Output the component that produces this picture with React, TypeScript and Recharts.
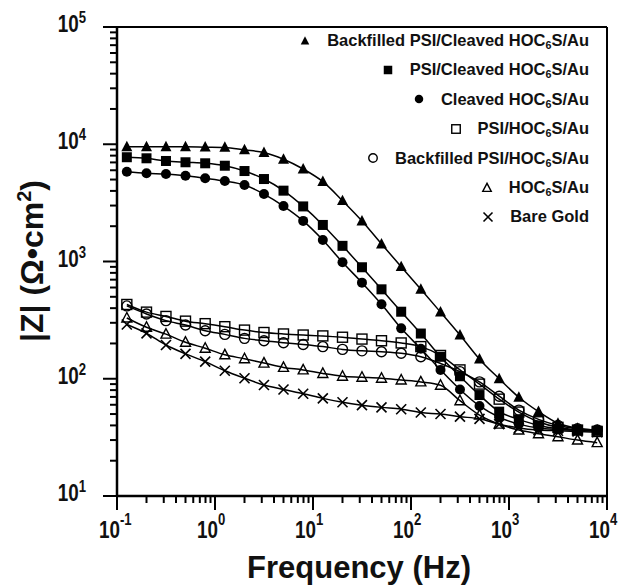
import React from "react";
import { LineChart, Line, XAxis, YAxis, ReferenceLine, Label } from "recharts";

// frequencies (Hz) of the measured points
const frequencies = [
  0.126, 0.2, 0.316, 0.5, 0.794, 1.26, 2, 3.16, 5, 7.94, 12.6, 20, 31.6, 50,
  79.4, 126, 200, 316, 500, 794, 1260, 2000, 3160, 5000, 7940,
];

// |Z| in ohm*cm^2
const backfilledPsiCleaved = [
  9500, 9500, 9500, 9500, 9450, 9400, 8950, 8500, 7450, 6150, 4800, 3300, 2215,
  1410, 903, 579, 370, 236, 147, 100, 69.5, 52.4, 41.7, 37.8, 36.5,
];
const psiCleaved = [
  7750, 7590, 7200, 7020, 6880, 6560, 5910, 5050, 4020, 2950, 2050, 1360, 893,
  579, 373, 243, 154, 105, 72.6, 52.4, 45, 40, 37.5, 36.5, 36,
];
const cleaved = [
  5830, 5650, 5570, 5390, 5130, 4860, 4490, 3760, 2970, 2220, 1525, 985, 660,
  432, 269, 180, 119, 81, 58.6, 47, 41, 38, 37, 36.5, 36.5,
];
const psi = [
  430, 370, 340, 310, 295, 278, 260, 248, 241, 236, 232, 226, 218, 211, 202,
  188, 158, 119, 90, 67, 52, 43, 38.5, 36.5, 35.5,
];
const backfilledPsi = [
  418, 357, 313, 287, 257, 239, 221, 211, 203, 196, 188, 178, 173, 170, 165,
  154, 135, 115, 94, 71, 54, 45, 40, 37.5, 36.5,
];
const hoc = [
  330, 275, 240, 205, 182, 160, 148, 136, 125, 119, 111, 105, 103, 101, 97.5,
  94, 88, 65, 49, 41, 36.5, 34, 32, 30, 28.5,
];
const bareGold = [
  290, 244, 194, 163, 140, 117, 101, 88.5, 81, 74.5, 68, 63, 59.5, 57, 55, 51.5,
  50, 47.5, 45.5, 41, 38, 36.5, 36, 35.5, 35,
];

const xMajorTicks = [0.1, 1, 10, 100, 1000, 10000];
const yMajorTicks = [10, 100, 1000, 10000, 100000];
const minorSteps = [2, 3, 4, 5, 6, 7, 8, 9];

const FONT = "'Liberation Sans', Arial, Helvetica, sans-serif";

// the chart fills the whole window
if (typeof document !== "undefined") document.body.style.margin = "0";

type Shape =
  | "triangle"
  | "square"
  | "circle"
  | "squareOpen"
  | "circleOpen"
  | "triangleOpen"
  | "cross";

const series: { key: string; name: string; shape: Shape; values: number[] }[] = [
  { key: "bfCleaved", name: "Backfilled PSI/Cleaved HOC6S/Au", shape: "triangle", values: backfilledPsiCleaved },
  { key: "psiCleaved", name: "PSI/Cleaved HOC6S/Au", shape: "square", values: psiCleaved },
  { key: "cleaved", name: "Cleaved HOC6S/Au", shape: "circle", values: cleaved },
  { key: "psi", name: "PSI/HOC6S/Au", shape: "squareOpen", values: psi },
  { key: "bfPsi", name: "Backfilled PSI/HOC6S/Au", shape: "circleOpen", values: backfilledPsi },
  { key: "hoc", name: "HOC6S/Au", shape: "triangleOpen", values: hoc },
  { key: "gold", name: "Bare Gold", shape: "cross", values: bareGold },
];

const data = frequencies.map((f, i) => {
  const row: Record<string, number> = { f };
  series.forEach((s) => {
    row[s.key] = s.values[i];
  });
  return row;
});

const withMinors = (majors: number[]) => {
  const out: number[] = [];
  majors.forEach((m, i) => {
    out.push(m);
    if (i < majors.length - 1) minorSteps.forEach((k) => out.push(m * k));
  });
  return out;
};

const xTicks = withMinors(xMajorTicks);
const yTicks = withMinors(yMajorTicks);

const isMajor = (v: number) => {
  const lg = Math.log10(v);
  return Math.abs(lg - Math.round(lg)) < 1e-6;
};

function Marker({ shape, cx, cy, size }: { shape: Shape; cx: number; cy: number; size: number }) {
  const s = size / 2;
  const tri = `${cx},${cy - s * 1.1} ${cx - s},${cy + s * 0.8} ${cx + s},${cy + s * 0.8}`;
  switch (shape) {
    case "triangle":
      return <polygon points={tri} fill="#000" />;
    case "square":
      return <rect x={cx - s} y={cy - s} width={size} height={size} fill="#000" />;
    case "circle":
      return <circle cx={cx} cy={cy} r={s} fill="#000" />;
    case "squareOpen":
      return <rect x={cx - s} y={cy - s} width={size} height={size} fill="none" stroke="#000" strokeWidth={1.4} />;
    case "circleOpen":
      return <circle cx={cx} cy={cy} r={s} fill="none" stroke="#000" strokeWidth={1.4} />;
    case "triangleOpen":
      return <polygon points={tri} fill="none" stroke="#000" strokeWidth={1.4} />;
    default:
      return (
        <g stroke="#000" strokeWidth={1.6}>
          <line x1={cx - s} y1={cy - s} x2={cx + s} y2={cy + s} />
          <line x1={cx - s} y1={cy + s} x2={cx + s} y2={cy - s} />
        </g>
      );
  }
}

const XTick = (props: any) => {
  const { x, y, payload } = props;
  const v = payload.value;
  const major = isMajor(v);
  const exp = Math.round(Math.log10(v));
  return (
    <g>
      <line x1={x} x2={x} y1={y} y2={y + (major ? 14 : 7)} stroke="#000" strokeWidth={2} />
      {major && (
        <g transform={`translate(${x - 18},${y + 42}) scale(0.82,1)`}>
          <text textAnchor="start" fontSize={23} fontWeight={700} fontFamily={FONT} fill="#111">
            10
            <tspan fontSize={16} dy={-13}>
              {exp}
            </tspan>
          </text>
        </g>
      )}
    </g>
  );
};

const YTick = (props: any) => {
  const { x, y, payload } = props;
  const v = payload.value;
  const major = isMajor(v);
  const exp = Math.round(Math.log10(v));
  return (
    <g>
      <line x1={x - (major ? 14 : 7)} x2={x} y1={y} y2={y} stroke="#000" strokeWidth={2} />
      {major && (
        <g transform={`translate(${x - 31},${y + 5}) scale(0.82,1)`}>
          <text textAnchor="end" fontSize={23} fontWeight={700} fontFamily={FONT} fill="#111">
            10
            <tspan fontSize={16} dy={-9}>
              {exp}
            </tspan>
          </text>
        </g>
      )}
    </g>
  );
};

const renderName = (name: string) => {
  const parts = name.split("HOC6S");
  if (parts.length < 2) return name;
  return (
    <>
      {parts[0]}HOC
      <sub style={{ fontSize: "0.65em", verticalAlign: "-0.3em", lineHeight: 0 }}>6</sub>S{parts[1]}
    </>
  );
};

function ChartLegend() {
  return (
    <div
      style={{
        position: "absolute",
        top: 26,
        right: 38,
        fontFamily: FONT,
        fontWeight: 700,
        fontSize: 16.5,
        color: "#111",
        lineHeight: "29.4px",
      }}
    >
      {series.map((s) => (
        <div key={s.key} style={{ display: "flex", justifyContent: "flex-end", alignItems: "center", height: 29.4 }}>
          <svg width={14} height={14} style={{ marginRight: 15 }}>
            <Marker shape={s.shape} cx={7} cy={7} size={s.shape === "cross" ? 9 : 8.5} />
          </svg>
          <span style={{ whiteSpace: "nowrap" }}>{renderName(s.name)}</span>
        </div>
      ))}
    </div>
  );
}

export default function App() {
  return (
    <div style={{ position: "relative", width: 627, height: 585, overflow: "hidden", background: "#fff" }}>
      <LineChart width={627} height={585} data={data} margin={{ top: 27, right: 20, left: 0, bottom: 0 }}>
        <XAxis
          dataKey="f"
          type="number"
          scale="log"
          domain={[0.1, 10000]}
          allowDataOverflow
          ticks={xTicks}
          interval={0}
          tick={XTick}
          tickLine={false}
          tickSize={0}
          tickMargin={0}
          height={89}
          axisLine={{ stroke: "#000", strokeWidth: 2.5 }}
        >
          <Label
            content={() => (
              <text x={359} y={578} textAnchor="middle" fontSize={31} fontWeight={700} fontFamily={FONT} fill="#111">
                Frequency (Hz)
              </text>
            )}
          />
        </XAxis>
        <YAxis
          type="number"
          scale="log"
          domain={[10, 100000]}
          allowDataOverflow
          ticks={yTicks}
          interval={0}
          tick={YTick}
          tickLine={false}
          tickSize={0}
          tickMargin={0}
          width={117}
          axisLine={{ stroke: "#000", strokeWidth: 2.5 }}
        >
          <Label
            content={() => (
              <text
                transform="translate(43,261) rotate(-90)"
                textAnchor="middle"
                fontSize={32}
                fontWeight={700}
                fontFamily={FONT}
                fill="#111"
              >
                |Z| (Ω•cm
                <tspan fontSize={20} dy={-12}>
                  2
                </tspan>
                <tspan dy={12}>)</tspan>
              </text>
            )}
          />
        </YAxis>
        <ReferenceLine y={100000} stroke="#000" strokeWidth={2} />
        <ReferenceLine x={10000} stroke="#000" strokeWidth={2} />
        {[...series].reverse().map((s) => (
          <Line
            key={s.key}
            dataKey={s.key}
            name={s.name}
            type="monotone"
            stroke="#000"
            strokeWidth={1.5}
            isAnimationActive={false}
            dot={(p: any) => (
              <Marker
                key={`${s.key}-${p.index}`}
                shape={s.shape}
                cx={p.cx}
                cy={p.cy}
                size={s.shape === "triangle" ? 11 : 10}
              />
            )}
            activeDot={false}
          />
        ))}
      </LineChart>
      <ChartLegend />
    </div>
  );
}
